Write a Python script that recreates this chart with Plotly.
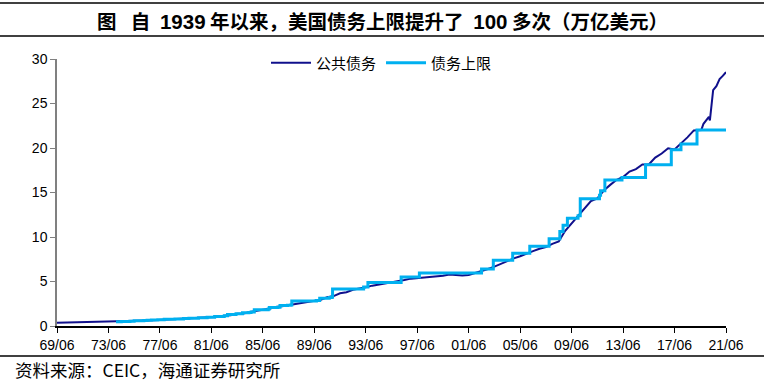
import plotly.graph_objects as go

# ---- data (trillion USD) ----
debt_dates = [
    "1969-06", "1969-12", "1970-06", "1970-12", "1971-06", "1971-12", "1972-06", "1972-12",
    "1973-06", "1973-12", "1974-06", "1974-12", "1975-06", "1975-12", "1976-06", "1976-12",
    "1977-06", "1977-12", "1978-06", "1978-12", "1979-06", "1979-12", "1980-06", "1980-12",
    "1981-06", "1981-12", "1982-06", "1982-12", "1983-06", "1983-12", "1984-06", "1984-12",
    "1985-06", "1985-12", "1986-06", "1986-12", "1987-06", "1987-12", "1988-06", "1988-12",
    "1989-06", "1989-12", "1990-06", "1990-12", "1991-06", "1991-12", "1992-06", "1992-12",
    "1993-06", "1993-12", "1994-06", "1994-12", "1995-06", "1995-12", "1996-06", "1996-12",
    "1997-06", "1997-12", "1998-06", "1998-12", "1999-06", "1999-12", "2000-06", "2000-12",
    "2001-06", "2001-12", "2002-06", "2002-12", "2003-06", "2003-12", "2004-06", "2004-12",
    "2005-06", "2005-12", "2006-06", "2006-12", "2007-06", "2007-12", "2008-06", "2008-12",
    "2009-06", "2009-12", "2010-06", "2010-12", "2011-06", "2011-12", "2012-06", "2012-12",
    "2013-06", "2013-12", "2014-06", "2014-12", "2015-06", "2015-12", "2016-06", "2016-12",
    "2017-06", "2017-12", "2018-06", "2018-12", "2019-03", "2019-07", "2019-09", "2019-12",
    "2020-02", "2020-03", "2020-05", "2020-06", "2020-09", "2020-12", "2021-03", "2021-06",
]
debt_values = [
    0.353, 0.368, 0.371, 0.389, 0.398, 0.424, 0.427, 0.450,
    0.458, 0.470, 0.475, 0.492, 0.533, 0.577, 0.620, 0.654,
    0.685, 0.718, 0.772, 0.789, 0.827, 0.845, 0.908, 0.930,
    0.998, 1.028, 1.142, 1.197, 1.377, 1.410, 1.573, 1.663,
    1.820, 1.945, 2.125, 2.214, 2.350, 2.431, 2.600, 2.684,
    2.858, 2.953, 3.233, 3.364, 3.683, 3.802, 4.065, 4.177,
    4.352, 4.535, 4.645, 4.800, 4.951, 4.989, 5.161, 5.323,
    5.376, 5.502, 5.548, 5.614, 5.639, 5.776, 5.686, 5.662,
    5.727, 5.943, 6.127, 6.405, 6.670, 6.998, 7.274, 7.596,
    7.837, 8.170, 8.420, 8.680, 8.867, 9.229, 9.492, 10.700,
    11.545, 12.311, 13.202, 14.025, 14.343, 15.223, 15.856, 16.433,
    16.738, 17.352, 17.632, 18.141, 18.152, 18.922, 19.381, 19.976,
    19.845, 20.493, 21.195, 21.974, 22.030, 22.030, 22.720, 23.201,
    23.500, 23.100, 26.000, 26.500, 26.950, 27.750, 28.100, 28.530,
]

ceiling_dates = [
    "1974-01", "1974-06", "1975-02", "1975-06", "1975-11", "1976-03", "1976-06", "1976-10",
    "1977-04", "1977-10", "1978-08", "1979-04", "1979-09", "1980-06", "1980-12", "1981-02",
    "1981-09", "1982-06", "1982-09", "1983-05", "1983-11", "1984-05", "1984-07", "1984-10",
    "1985-11", "1985-12", "1986-08", "1986-10", "1987-05", "1987-08", "1987-09", "1989-08",
    "1989-11", "1990-08", "1990-10", "1990-11", "1993-04", "1993-08", "1996-03", "1997-08",
    "2002-06", "2003-05", "2004-11", "2006-03", "2007-09", "2008-07", "2008-10", "2009-02",
    "2009-12", "2010-02", "2011-08", "2011-09", "2012-01", "2013-05", "2015-03", "2017-03",
    "2017-12", "2019-03", "2021-06",
]
ceiling_values = [
    0.476, 0.495, 0.531, 0.577, 0.595, 0.627, 0.636, 0.682,
    0.700, 0.752, 0.798, 0.830, 0.879, 0.925, 0.935, 0.985,
    1.079, 1.143, 1.290, 1.389, 1.490, 1.520, 1.573, 1.824,
    1.904, 2.079, 2.111, 2.300, 2.320, 2.352, 2.800, 2.870,
    3.123, 3.195, 3.230, 4.145, 4.370, 4.900, 5.500, 5.950,
    6.400, 7.384, 8.184, 8.965, 9.815, 10.615, 11.315, 12.104,
    12.394, 14.294, 14.694, 15.194, 16.394, 16.699, 18.113, 19.809,
    20.456, 22.030, 22.030,
]

tick_dates = ["1969-06-01", "1973-06-01", "1977-06-01", "1981-06-01", "1985-06-01",
              "1989-06-01", "1993-06-01", "1997-06-01", "2001-06-01", "2005-06-01",
              "2009-06-01", "2013-06-01", "2017-06-01", "2021-06-01"]
tick_labels = ["69/06", "73/06", "77/06", "81/06", "85/06", "89/06", "93/06", "97/06",
               "01/06", "05/06", "09/06", "13/06", "17/06", "21/06"]

series_names = ["公共债务", "债务上限"]
NUMSPAN = "<span style='font-family:Liberation Sans,Arial;font-size:20.5px'>{}</span>"
EN = "&#8194;"
title_text = ("<b>图" + EN + "&nbsp;自" + EN + NUMSPAN.format("1939") + "&nbsp;年以来，美国债务上限提升了" + EN
              + NUMSPAN.format("100") + "&nbsp;多次（万亿美元）</b>")
source_text = "资料来源：CEIC，海通证券研究所"

W, H = 764, 382
ML, MR, MT, MB = 57, 38, 59, 56
PW, PH = W - ML - MR, H - MT - MB

def px_x(x):
    return (x - ML) / PW

def px_y(y):
    return (H - MB - y) / PH

CJK = "Noto Sans CJK SC, Liberation Sans, sans-serif"
NUM = "Liberation Sans, Arial, sans-serif"

fig = go.Figure()
fig.add_trace(go.Scatter(
    x=debt_dates, y=debt_values, mode="lines", name=series_names[0],
    line=dict(color="#10108C", width=2),
))
fig.add_trace(go.Scatter(
    x=ceiling_dates, y=ceiling_values, mode="lines", name=series_names[1],
    line=dict(color="#00B0F0", width=3, shape="hv"),
))

line_style = dict(color="#000000", width=1.5)
for ypix in (3, 36, 356):
    fig.add_shape(type="line", xref="paper", yref="paper",
                  x0=px_x(0), x1=px_x(W), y0=px_y(ypix), y1=px_y(ypix),
                  line=line_style)

fig.add_annotation(text=title_text, xref="paper", yref="paper",
                   x=px_x(382), y=px_y(20), xanchor="center", yanchor="middle",
                   showarrow=False, font=dict(family=CJK, size=19.5, color="#000000"))
fig.add_annotation(text=source_text, xref="paper", yref="paper",
                   x=px_x(13), y=px_y(369), xanchor="left", yanchor="middle",
                   showarrow=False, font=dict(family=CJK, size=17.5, color="#000000"))

fig.update_layout(
    width=W, height=H,
    margin=dict(l=ML, r=MR, t=MT, b=MB),
    paper_bgcolor="white", plot_bgcolor="white",
    showlegend=True,
    legend=dict(orientation="h", x=px_x(266), xanchor="left", y=px_y(63), yanchor="middle",
                font=dict(family=CJK, size=15, color="#000000"),
                bgcolor="rgba(0,0,0,0)", itemwidth=40, tracegroupgap=0),
    xaxis=dict(
        type="date", range=["1969-06-01", "2021-06-01"],
        tickvals=tick_dates, ticktext=tick_labels,
        showgrid=False, zeroline=False,
        showline=True, linecolor="#000000", linewidth=1.5,
        ticks="outside", ticklen=5, tickcolor="#000000", tickwidth=1,
        tickfont=dict(family=NUM, size=14, color="#000000"),
    ),
    yaxis=dict(
        range=[0, 30], tickvals=[0, 5, 10, 15, 20, 25, 30],
        showgrid=False, zeroline=False,
        showline=True, linecolor="#808080", linewidth=1.5,
        ticks="outside", ticklen=5, tickcolor="#808080", tickwidth=1,
        tickfont=dict(family=NUM, size=14, color="#000000"),
    ),
)

fig.write_html("out.html", config={"displayModeBar": False},
               post_script="document.body.style.margin='0';document.body.style.overflow='hidden';")
